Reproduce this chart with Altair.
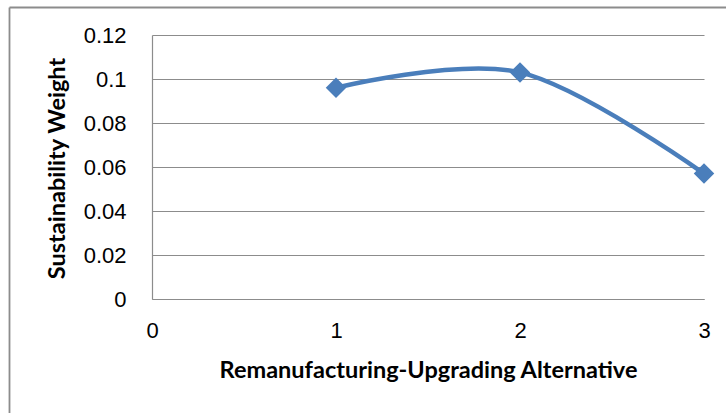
import altair as alt
import pandas as pd

# Sustainability weight of each remanufacturing-upgrading alternative
alternatives = [1, 2, 3]
weights = [0.096, 0.103, 0.057]

x_ticks = [0, 1, 2, 3]
y_ticks = [0, 0.02, 0.04, 0.06, 0.08, 0.1, 0.12]

LINE_BLUE = "#4A7EBB"
GRID_GRAY = "#8C8C8C"

df = pd.DataFrame({"alt": alternatives, "weight": weights})

x_enc = alt.X(
    "alt:Q",
    scale=alt.Scale(domain=[0, 3], nice=False, zero=False),
    axis=alt.Axis(
        values=x_ticks,
        format="d",
        grid=False,
        ticks=False,
        tickSize=0,
        domainColor=GRID_GRAY,
        domainWidth=1.2,
        labelFont="Liberation Sans",
        labelFontSize=22,
        labelColor="#000000",
        labelPadding=21,
        labelFlush=False,
        title="Remanufacturing-Upgrading Alternative",
        titleFont="Lato",
        titleFontSize=23.5,
        titleFontWeight="bold",
        titleColor="#000000",
        titleX=276,
        titleY=78,
        titleAlign="center",
        titleBaseline="alphabetic",
    ),
)

y_enc = alt.Y(
    "weight:Q",
    scale=alt.Scale(domain=[0, 0.12], nice=False),
    axis=alt.Axis(
        values=y_ticks,
        labelExpr="datum.value + ''",
        grid=True,
        gridColor=GRID_GRAY,
        gridWidth=1.2,
        ticks=False,
        tickSize=0,
        domainColor=GRID_GRAY,
        domainWidth=1.2,
        labelFont="Liberation Sans",
        labelFontSize=22,
        labelColor="#000000",
        labelPadding=26,
        labelFlush=False,
        title="Sustainability Weight",
        titleFont="Lato",
        titleFontSize=23.5,
        titleFontWeight="bold",
        titleColor="#000000",
        titleAngle=270,
        titleX=-88,
        titleY=133,
        titleAlign="center",
        titleBaseline="alphabetic",
    ),
)

base = alt.Chart(df)

curve = base.mark_line(
    interpolate="cardinal", tension=0, color=LINE_BLUE, strokeWidth=4.5
).encode(x=x_enc, y=y_enc)

markers = base.mark_point(
    shape="diamond", filled=True, size=420, color=LINE_BLUE, opacity=1
).encode(x="alt:Q", y="weight:Q")

# Outer frame of the chart (top and left edges)
frame_src = alt.Chart(pd.DataFrame({"k": [0]}))
frame_left = frame_src.mark_rule(color=GRID_GRAY, strokeWidth=1.8).encode(
    x=alt.value(-142.5), y=alt.value(-27.5), y2=alt.value(380)
)
frame_top = frame_src.mark_rule(color=GRID_GRAY, strokeWidth=1.8).encode(
    x=alt.value(-142.5), x2=alt.value(580), y=alt.value(-27.5)
)

chart = (
    alt.layer(curve, markers, frame_left, frame_top)
    .properties(
        width=552,
        height=264,
        background="white",
        padding={"left": 152, "top": 35, "right": 22, "bottom": 114},
        autosize=alt.AutoSizeParams(type="none"),
    )
    .configure_view(stroke=None)
)

chart.save("out.html", embed_options={"renderer": "svg", "actions": False})
